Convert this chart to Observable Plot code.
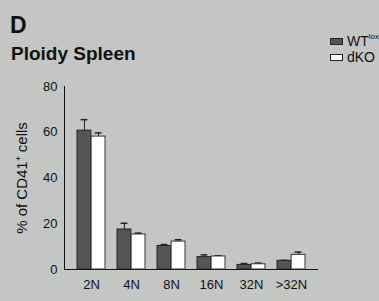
<!DOCTYPE html>
<html>
<head>
<meta charset="utf-8">
<script src="https://cdn.jsdelivr.net/npm/d3@7"></script>
<script src="https://cdn.jsdelivr.net/npm/@observablehq/plot@0.6"></script>
<style>
  html, body { margin: 0; padding: 0; background: #c4c6c4; overflow: hidden; }
  body { width: 379px; height: 301px; font-family: "Liberation Sans", Arial, sans-serif; color: #111; }
  #head { position: relative; height: 70px; }
  .t { position: absolute; white-space: nowrap; font-weight: bold; }
  .lg { position: absolute; left: 330px; font-size: 14px; line-height: 16px; white-space: nowrap; display: flex; align-items: center; }
  .sw { width: 13px; height: 7px; box-sizing: border-box; border: 1px solid #222; margin-right: 4px; }
  sup { font-size: 8px; line-height: 8px; position: relative; top: -4px; vertical-align: top; }
</style>
</head>
<body>
<div id="head">
  <div class="t" style="left:10px; top:12px; font-size:23px;">D</div>
  <div class="t" style="left:11px; top:43px; font-size:19px;">Ploidy Spleen</div>
  <div class="lg" style="top:33px;"><span class="sw" style="background:#555555"></span>WT<sup>lox</sup></div>
  <div class="lg" style="top:49px;"><span class="sw" style="background:#ffffff"></span>dKO</div>
</div>
<div id="chart"></div>
<script>
const categories = ["2N", "4N", "8N", "16N", "32N", ">32N"];
const wtValues = [60.7, 17.5, 10.3, 5.4, 2.0, 3.8];
const wtErrors = [4.8, 2.7, 0.6, 1.0, 0.6, 0.2];
const dkoValues = [58.1, 15.3, 12.2, 5.7, 2.3, 6.4];
const dkoErrors = [1.6, 0.6, 0.8, 0.3, 0.5, 1.2];
const yTicks = [0, 20, 40, 60, 80];

const wt = categories.map((c, i) => ({cat: c, v: wtValues[i], e: wtErrors[i]}));
const dko = categories.map((c, i) => ({cat: c, v: dkoValues[i], e: dkoErrors[i]}));

const W = 379, H = 231, mL = 64, mR = 61;
const pad = 0.3;
const step = (W - mL - mR) / (categories.length - pad + 2 * pad);
const bw = step * (1 - pad);
const half = bw / 2;
const capW = 7;

const chart = Plot.plot({
  width: W,
  height: H,
  marginLeft: mL,
  marginRight: mR,
  marginTop: 16,
  marginBottom: 32,
  style: {background: "transparent", fontFamily: "'Liberation Sans', Arial, sans-serif", color: "#111"},
  x: {domain: categories, padding: pad, label: null},
  y: {domain: [0, 80], label: null},
  marks: [
    Plot.axisY({ticks: yTicks, tickSize: 0, tickPadding: 7, fontSize: 13, label: null}),
    Plot.axisX({tickSize: 0, tickPadding: 10, fontSize: 13, label: null}),
    Plot.ruleY([0], {stroke: "#111", strokeWidth: 1}),
    Plot.frame({anchor: "left", stroke: "#111", strokeWidth: 1}),
    Plot.ruleX(wt, {x: "cat", y1: "v", y2: d => d.v + d.e, dx: -half / 2, stroke: "#222"}),
    Plot.ruleX(dko, {x: "cat", y1: "v", y2: d => d.v + d.e, dx: half / 2, stroke: "#222"}),
    Plot.tickY(wt, {x: "cat", y: d => d.v + d.e, insetLeft: half / 2 - capW / 2, insetRight: bw - half / 2 - capW / 2, stroke: "#222", strokeWidth: 1.5}),
    Plot.tickY(dko, {x: "cat", y: d => d.v + d.e, insetLeft: half + half / 2 - capW / 2, insetRight: half / 2 - capW / 2, stroke: "#222", strokeWidth: 1.5}),
    Plot.barY(wt, {x: "cat", y: "v", insetRight: half, fill: "#555555", stroke: "#222", strokeWidth: 1}),
    Plot.barY(dko, {x: "cat", y: "v", insetLeft: half, fill: "#ffffff", stroke: "#333", strokeWidth: 1}),
    Plot.text(["% of CD41⁺ cells"], {frameAnchor: "left", dx: -42, rotate: -90, fontSize: 15, textAnchor: "middle", lineAnchor: "middle", fill: "#111"})
  ]
});
document.getElementById("chart").appendChild(chart);
</script>
</body>
</html>
